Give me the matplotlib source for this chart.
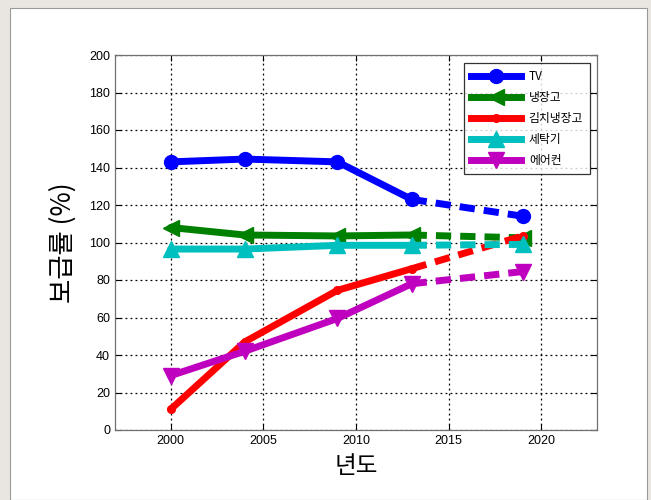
import matplotlib
matplotlib.use("Agg")
import matplotlib.pyplot as plt
from matplotlib.lines import Line2D
from matplotlib.patches import Rectangle

plt.rcParams['font.family'] = ['Liberation Sans', 'Noto Sans CJK KR', 'DejaVu Sans']

years = [2000, 2004, 2009, 2013, 2019]
tv = [143, 144.5, 143, 123, 114]
fridge = [108, 104, 103.5, 104, 102.5]
kimchi = [11, 47, 74.5, 86, 103.5]
washer = [96.5, 96.5, 98.5, 98.5, 99]
aircon = [29, 42, 59.5, 78, 84.5]

labels = ['TV', '냉장고', '김치냉장고', '세탁기', '에어컨']
colors = ['#0000ff', '#008000', '#ff0000', '#00bfbf', '#bf00bf']
markers = ['o', '<', '.', '^', 'v']
msizes = [10, 12, 11, 12, 12]

xticks = [2000, 2005, 2010, 2015, 2020]
yticks = list(range(0, 201, 20))

fig = plt.figure(figsize=(6.51, 5.0), dpi=100, facecolor='#e9e6e2')
# white panel behind the axes
panel = Rectangle((10 / 651, 0), 637 / 651, 492 / 500, transform=fig.transFigure,
                  facecolor='white', edgecolor='#9a9a9a', linewidth=0.8, zorder=-10)
fig.add_artist(panel)

ax = fig.add_axes([115 / 651, 1 - 430 / 500, 482 / 651, 375 / 500])
ax.set_zorder(1)
ax.set_facecolor('white')

series = [tv, fridge, kimchi, washer, aircon]
handles = []
for vals, lab, c, m, ms in zip(series, labels, colors, markers, msizes):
    ax.plot(years[:4], vals[:4], color=c, lw=5, marker=m, ms=ms,
            solid_capstyle='round', zorder=3)
    ax.plot(years[3:], vals[3:], color=c, lw=5, ls=(0, (2.2, 1.3)), marker=m, ms=ms,
            markevery=[1], zorder=3)
    handles.append(Line2D([], [], color=c, lw=5, marker=m, ms=ms))

ax.set_xlim(1997, 2023)
ax.set_ylim(0, 200)
ax.set_xticks(xticks)
ax.set_yticks(yticks)
ax.grid(True, color='black', linestyle=(0, (1.5, 2.5)), linewidth=0.9)
ax.tick_params(direction='in', top=True, right=True, labelsize=9, length=4, width=0.8,
               colors='black')
for s in ax.spines.values():
    s.set_color('#707070')
    s.set_linewidth(0.9)

ax.set_xlabel('년도', fontsize=17, family=['Noto Sans CJK KR', 'DejaVu Sans'], labelpad=6)
ax.set_ylabel('보급률 (%)', fontsize=19, family=['Noto Sans CJK KR', 'DejaVu Sans'])
ax.yaxis.set_label_coords(-0.08, 0.5)

leg = ax.legend(handles, labels, loc='upper right', bbox_to_anchor=(0.986, 0.979),
                handlelength=4.2, frameon=True, fancybox=False,
                borderpad=0.6, labelspacing=0.68, handletextpad=0.7, borderaxespad=0,
                prop={'family': ['Noto Sans CJK KR', 'DejaVu Sans'], 'size': 8.5})
leg.get_frame().set_edgecolor('black')
leg.get_frame().set_linewidth(0.9)

fig.savefig('out.png', dpi=100, facecolor=fig.get_facecolor())
